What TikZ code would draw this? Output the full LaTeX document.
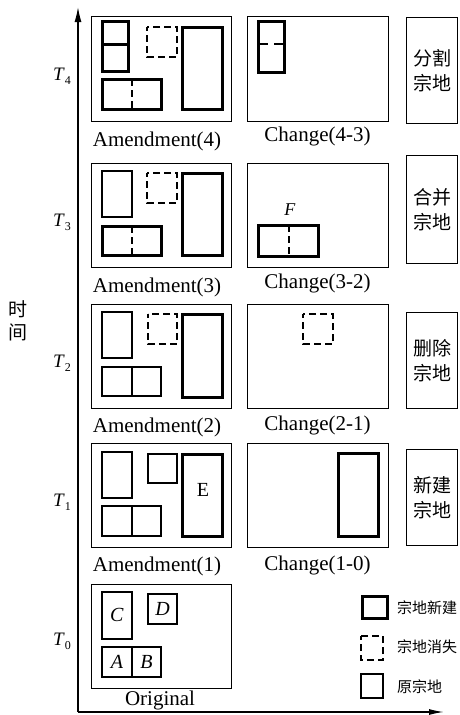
\documentclass[tikz,border=0pt]{standalone}
\usepackage{fontspec}
\setmainfont{Liberation Serif}
\newfontfamily\cjk{Noto Sans CJK SC}
\usetikzlibrary{arrows.meta}
\tikzset{
  frm/.style={draw, line width=1.4pt, minimum height=104pt, inner sep=0pt, anchor=north west},
  sidebox/.style={draw, line width=1.4pt, minimum width=51pt, inner sep=0pt, anchor=north west, align=center, font=\cjk\fontsize{19}{25}\selectfont},
  caption/.style={anchor=base, inner sep=0pt, font=\fontsize{21}{24}\selectfont},
  tlbl/.style={anchor=base west, inner sep=0pt, font=\fontsize{19}{22}\selectfont},
  letter/.style={inner sep=0pt, font=\fontsize{20}{22}\selectfont},
  newp/.style={draw, line width=3pt},
  oldp/.style={draw, line width=1.3pt},
  lostp/.style={draw, line width=1.3pt, dash pattern=on 7pt off 4pt, dash phase=3pt},
  divd/.style={draw, line width=1.3pt, dash pattern=on 7pt off 4pt},
  axis/.style={draw, line width=1.4pt},
  legtxt/.style={anchor=west, inner sep=0pt, font=\cjk\fontsize{15}{18}\selectfont},
}
\begin{document}
\begin{tikzpicture}[x=1pt, y=-1pt]
\useasboundingbox (0,0) rectangle (459,715);

% axes
\coordinate (o) at (78,712);
\coordinate (ytop) at (78,7);
\coordinate (xend) at (444,712);
\draw[axis, -{Latex[length=15pt,width=7pt]}] (o) -- (ytop);
\draw[axis, -{Latex[length=15pt,width=6pt]}] (o) -- (xend);

% vertical axis title
\node (timelbl) at (18,321) [align=center, inner sep=0pt, font=\cjk\fontsize{19}{23}\selectfont] {时\\间};

% time labels
\node (t4) at (53,80) [tlbl] {\textit{T}\raisebox{-4pt}{\fontsize{12}{12}\selectfont 4}};
\node (t3) at (53,226) [tlbl] {\textit{T}\raisebox{-4pt}{\fontsize{12}{12}\selectfont 3}};
\node (t2) at (53,367) [tlbl] {\textit{T}\raisebox{-4pt}{\fontsize{12}{12}\selectfont 2}};
\node (t1) at (53,506) [tlbl] {\textit{T}\raisebox{-4pt}{\fontsize{12}{12}\selectfont 1}};
\node (t0) at (53,645) [tlbl] {\textit{T}\raisebox{-4pt}{\fontsize{12}{12}\selectfont 0}};

% frames
\node (a4) at (91,16)  [frm, minimum width=140pt, minimum height=105pt] {};
\node (a3) at (91,163) [frm, minimum width=140pt] {};
\node (a2) at (91,304) [frm, minimum width=140pt] {};
\node (a1) at (91,443) [frm, minimum width=140pt] {};
\node (a0) at (91,584) [frm, minimum width=140pt] {};
\node (c4) at (247,16)  [frm, minimum width=141pt, minimum height=105pt] {};
\node (c3) at (247,163) [frm, minimum width=141pt] {};
\node (c2) at (247,304) [frm, minimum width=141pt] {};
\node (c1) at (247,443) [frm, minimum width=141pt] {};

% captions
\node (la4) at (157,146) [caption] {Amendment(4)};
\node (la3) at (157,292) [caption] {Amendment(3)};
\node (la2) at (157,432) [caption] {Amendment(2)};
\node (la1) at (157,571) [caption] {Amendment(1)};
\node (la0) at (160,705) [caption] {Original};
\node (lc4) at (317.5,141) [caption] {Change(4-3)};
\node (lc3) at (317.5,288) [caption] {Change(3-2)};
\node (lc2) at (317.5,430) [caption] {Change(2-1)};
\node (lc1) at (317.5,570) [caption] {Change(1-0)};

% side boxes
\node (s4) at (406,17)  [sidebox, minimum height=106pt] {分割\\宗地};
\node (s3) at (406,155) [sidebox, minimum height=108pt] {合并\\宗地};
\node (s2) at (406,312) [sidebox, minimum height=96pt] {删除\\宗地};
\node (s1) at (406,449) [sidebox, minimum height=96pt] {新建\\宗地};

% ---- Amendment(4)
\draw[newp] (102,21) rectangle (128,71);
\draw[newp] (102,44) -- (128,44);
\draw[lostp] (147,27) rectangle (177,57);
\draw[divd] (132,79) -- (132,109);
\draw[newp] (102,79) rectangle (161,109);
\draw[newp] (182,27) rectangle (222,109);

% ---- Amendment(3)
\draw[oldp] (102,171) rectangle (132,217);
\draw[lostp] (147,173) rectangle (177,203);
\draw[divd] (132,226) -- (132,255);
\draw[newp] (102,226) rectangle (161,255);
\draw[newp] (182,173) rectangle (222,255);

% ---- Amendment(2)
\draw[oldp] (102,312) rectangle (132,358);
\draw[lostp] (148,314) rectangle (177,344);
\draw[oldp] (102,367) rectangle (132,396);
\draw[oldp] (132,367) rectangle (161,396);
\draw[newp] (182,314) rectangle (222,397);

% ---- Amendment(1)
\draw[oldp] (102,452) rectangle (132,498);
\draw[oldp] (148,454) rectangle (177,483);
\draw[oldp] (102,506) rectangle (132,536);
\draw[oldp] (132,506) rectangle (161,536);
\draw[newp] (182,454) rectangle (222,536);
\node (lblE) at (203,490) [letter] {E};

% ---- Original
\draw[oldp] (102,592) rectangle (132,639);
\draw[oldp] (148,594) rectangle (177,624);
\draw[oldp] (102,647) rectangle (132,677);
\draw[oldp] (132,647) rectangle (161,677);
\node (lblC) at (117,615) [letter] {\textit{C}};
\node (lblD) at (162.5,609) [letter] {\textit{D}};
\node (lblA) at (117,662) [letter] {\textit{A}};
\node (lblB) at (146.5,662) [letter] {\textit{B}};

% ---- Change(4-3)
\draw[draw, line width=1.3pt, dash pattern=on 10pt off 6pt] (258,44) -- (284,44);
\draw[newp] (258,21) rectangle (284,72);

% ---- Change(3-2)
\node (lblF) at (290,210) [letter, font=\fontsize{18}{20}\selectfont] {\textit{F}};
\draw[divd] (289,225) -- (289,256);
\draw[newp] (258,225) rectangle (318,256);

% ---- Change(2-1)
\draw[lostp] (303,314) rectangle (333,344);

% ---- Change(1-0)
\draw[newp] (338,453) rectangle (378,536);

% ---- legend
\draw[newp] (362,596) rectangle (387,618);
\draw[lostp] (361,636) rectangle (383,660);
\draw[oldp] (361,674) rectangle (383,698);
\node (leg1) at (397,608) [legtxt] {宗地新建};
\node (leg2) at (397,647) [legtxt] {宗地消失};
\node (leg3) at (397,687) [legtxt] {原宗地};
\end{tikzpicture}
\end{document}
